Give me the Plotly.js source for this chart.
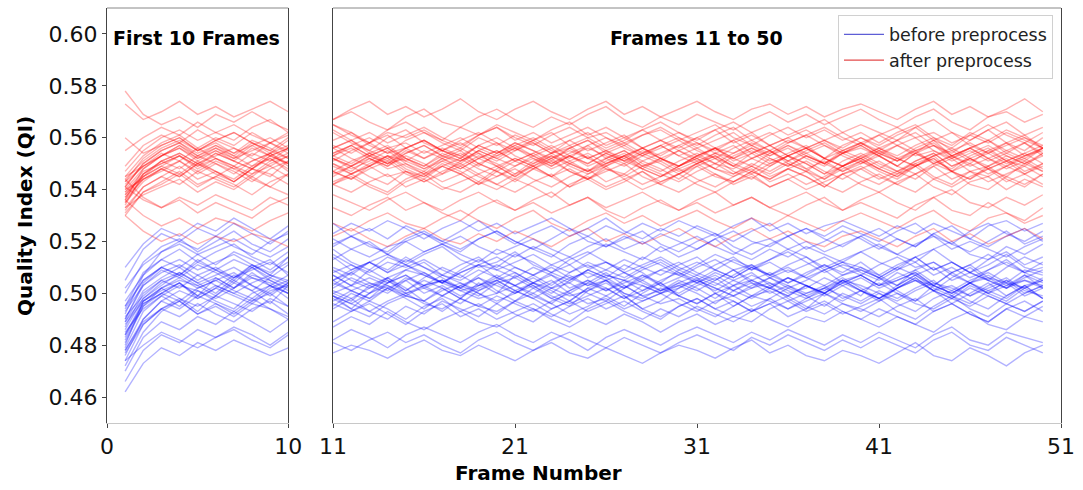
<!DOCTYPE html>
<html><head><meta charset="utf-8">
<script src="https://cdn.plot.ly/plotly-3.0.1.min.js"></script>
<style>html,body{margin:0;padding:0;background:#fff}#chart{width:1083px;height:490px}</style>
</head><body><div id="chart"></div>
<script>
// Frame numbers (x) and Quality Index values in thousandths (y); tick labels map thousandths -> QI
const frames=[1,2,3,4,5,6,7,8,9,10,11,12,13,14,15,16,17,18,19,20,21,22,23,24,25,26,27,28,29,30,31,32,33,34,35,36,37,38,39,40,41,42,43,44,45,46,47,48,49,50];

// before preprocess
const before01=[488,497,501,504,499,506,502,508,503,500,505,501,498,504,507,502,499,503,506,501,497,502,505,500,504,508,503,499,501,505,502,498,503,507,504,500,502,506,503,499,506,501,497,503,508,504,500,503,507,502];
const before02=[481,495,502,498,493,499,505,501,496,503,499,494,500,506,502,497,493,498,504,500,507,503,498,495,501,505,499,494,497,502,506,500,495,499,503,498,494,500,505,501,497,502,506,501,496,500,504,499,503,498];
const before03=[493,503,509,506,511,508,504,510,513,507,503,508,512,509,514,510,506,502,507,511,508,504,500,505,509,506,511,508,503,506,510,513,509,505,508,504,507,511,508,512,507,503,509,512,507,504,509,513,508,505];
const before04=[476,490,497,494,499,496,492,497,500,495,498,494,491,496,499,497,502,498,495,493,497,500,496,492,495,499,503,499,496,498,494,491,495,499,497,494,498,502,499,496,500,496,493,498,501,497,494,499,503,498];
const before05=[490,504,510,507,513,509,505,511,507,514,510,507,512,515,511,508,504,509,513,510,515,512,508,511,506,509,513,510,507,511,514,509,506,510,513,516,512,508,511,509,506,510,514,509,512,508,505,510,514,511];
const before06=[484,496,500,504,498,502,507,503,499,504,500,497,503,506,501,505,502,498,503,507,503,499,496,501,505,502,498,503,500,504,501,505,509,504,500,503,499,502,506,502,498,503,507,502,499,504,500,505,502,498];
const before07=[472,485,493,497,492,495,491,496,494,490,494,498,493,490,495,492,497,494,491,496,492,489,494,497,493,496,499,494,491,495,498,494,491,489,494,497,493,496,492,495,498,493,490,495,499,494,491,496,493,497];
const before08=[497,507,513,510,515,511,516,513,509,514,517,512,509,514,511,515,518,513,510,512,516,511,508,513,516,512,509,514,511,507,511,515,512,509,513,517,514,510,513,516,512,509,514,517,512,508,513,516,511,514];
const before09=[486,498,503,508,504,500,506,510,505,502,507,503,509,505,501,506,510,507,503,505,501,504,508,505,509,506,502,507,504,509,506,503,507,511,506,502,505,509,504,507,503,508,505,501,506,510,505,502,507,504];
const before10=[479,493,499,495,501,497,494,500,503,498,495,500,497,502,498,494,499,503,500,496,501,498,494,497,502,499,495,500,504,499,496,500,497,493,498,502,499,495,500,497,501,498,502,505,499,496,501,504,499,502];
const before11=[500,512,518,521,516,520,524,519,516,521,518,522,519,515,520,523,519,516,521,524,520,517,514,519,522,518,521,524,519,516,520,523,518,515,519,522,517,520,524,521,517,521,518,523,519,516,520,524,519,522];
const before12=[505,517,523,520,525,522,527,523,519,524,527,522,525,521,526,523,520,524,528,523,519,523,526,522,525,529,524,521,525,522,526,523,520,524,527,522,525,522,526,523,520,524,527,522,519,524,527,523,520,524];
const before13=[495,508,513,517,512,516,519,514,511,516,513,517,520,515,512,516,519,515,512,517,514,518,515,511,515,519,516,513,518,514,517,521,516,513,517,514,518,515,512,516,519,515,512,517,520,515,513,518,515,519];
const before14=[510,519,525,522,527,524,529,525,521,526,523,527,524,528,525,521,525,528,524,527,523,526,529,525,522,526,523,527,524,528,525,522,526,529,524,527,523,526,528,525,522,526,523,527,524,521,526,528,524,527];
const before15=[470,483,489,486,491,488,493,489,485,490,487,491,488,493,489,486,490,493,489,487,491,494,490,487,491,488,492,489,485,489,492,488,491,494,490,487,491,489,493,490,487,491,488,485,490,493,488,486,491,489];
const before16=[466,478,484,481,486,483,487,484,480,485,482,486,483,479,484,487,484,481,485,488,484,481,485,482,478,483,486,483,480,484,487,484,481,485,482,486,483,480,484,481,485,482,479,484,487,482,480,485,483,481];
const before17=[462,473,479,476,481,478,482,479,476,479,477,480,478,475,479,482,478,476,480,477,474,478,481,477,475,479,476,473,477,480,478,475,479,482,477,480,476,474,478,476,473,477,481,476,474,479,476,472,477,480];
const before18=[474,480,485,482,479,483,486,482,479,484,481,478,482,485,481,484,480,477,482,485,481,478,482,485,482,479,483,480,477,481,484,481,478,483,480,484,481,478,482,479,483,480,477,482,485,480,478,483,480,477];
const before19=[478,489,494,491,496,492,489,494,497,492,489,493,496,492,488,493,496,491,494,490,493,496,492,489,494,497,493,490,494,491,495,492,489,493,496,491,494,497,493,490,494,491,488,493,496,492,489,494,491,495];
const before20=[489,501,506,510,505,509,506,511,507,504,508,511,507,504,509,512,507,505,509,506,510,507,503,508,511,507,505,509,512,508,505,509,506,510,507,504,508,511,507,509,506,510,507,503,508,511,506,504,509,507];
const before21=[483,496,500,504,499,503,500,497,502,505,501,498,502,505,500,503,499,496,501,504,500,504,501,497,502,505,500,498,502,499,503,506,501,498,502,499,503,500,497,501,498,502,506,501,498,503,500,497,502,505];
const before22=[494,505,510,507,512,509,513,510,506,511,514,509,512,508,513,510,507,511,514,509,512,515,511,508,512,509,506,510,513,509,512,509,513,510,507,511,514,509,512,510,507,511,514,509,512,508,511,515,510,508];
const before23=[474,488,494,497,492,496,493,498,494,491,496,493,497,494,490,495,498,493,496,492,497,494,491,495,498,494,497,493,490,495,498,494,497,493,496,499,495,492,496,494,491,495,498,493,496,492,489,494,497,493];
const before24=[492,507,516,520,517,522,518,515,520,523,519,522,518,516,521,524,520,517,521,524,520,517,521,525,520,518,522,519,523,520,517,521,524,520,518,522,525,521,518,522,525,521,518,523,526,521,518,522,525,520];
const before25=[485,494,499,503,501,498,502,506,504,500,497,501,504,502,499,503,505,501,498,500,503,506,502,499,501,504,500,497,500,503,505,502,499,502,504,501,498,501,505,503,500,497,501,504,502,499,503,506,501,499];
const before26=[491,499,505,502,507,503,500,504,507,505,502,506,503,500,505,508,504,501,503,506,503,500,504,507,503,505,508,504,501,504,507,504,501,505,502,506,503,500,504,507,503,505,508,503,500,504,506,502,505,503];
const before27=[480,497,502,505,503,499,504,501,506,503,500,503,506,503,500,502,505,502,499,504,506,502,498,501,504,501,505,503,500,502,505,502,499,503,506,503,500,502,505,501,498,502,505,503,500,504,501,498,503,505];
const before28=[487,500,505,508,504,507,510,506,503,507,509,505,502,506,509,507,504,508,511,506,503,507,510,506,508,505,502,506,509,507,504,508,505,502,506,509,506,503,507,510,506,503,507,510,505,508,505,502,506,509];
const before29=[478,490,497,501,498,502,499,496,501,503,499,496,500,503,499,497,501,504,500,497,500,503,499,496,499,502,498,501,504,499,496,500,503,499,501,497,500,503,498,501,504,500,497,501,498,502,499,496,500,503];
const before30=[482,495,500,497,502,505,501,498,503,500,504,501,498,502,505,500,503,499,502,505,501,498,502,504,500,497,502,505,501,503,500,496,501,504,502,499,503,500,504,501,498,502,505,501,503,499,502,505,500,503];
const before31=[489,498,504,507,503,506,502,507,505,501,505,508,504,501,506,503,507,504,501,505,508,504,502,506,503,507,505,501,505,508,504,501,505,508,503,506,503,500,505,507,503,506,509,504,501,505,508,504,502,506];
const before32=[477,488,494,498,495,499,496,493,498,495,499,496,493,497,500,496,494,498,495,499,496,493,497,500,496,498,494,497,500,496,493,497,499,495,498,494,497,500,496,493,497,500,496,494,498,495,499,496,493,497];
const before33=[490,503,508,511,507,510,506,509,512,508,505,509,512,508,511,507,504,508,511,509,506,510,507,504,509,512,508,505,509,512,508,505,509,511,507,510,506,509,512,508,505,509,512,507,510,506,509,512,508,510];
const before34=[484,497,502,506,502,505,508,503,500,504,507,503,500,504,507,503,505,502,506,503,500,504,507,502,505,501,504,507,503,500,504,507,503,505,502,506,503,499,503,506,502,505,508,503,500,504,507,503,505,502];
const before35=[495,505,510,513,509,512,515,511,508,512,515,511,508,512,510,513,509,506,511,514,510,507,511,514,510,512,508,511,514,510,507,511,514,509,512,508,511,514,510,507,511,514,510,512,508,511,515,511,508,512];
const before36=[502,511,516,519,515,518,521,517,514,518,521,517,514,518,520,516,519,522,518,515,518,521,517,514,518,521,517,520,516,519,522,518,515,519,521,517,520,516,519,522,518,515,519,522,517,520,517,514,518,521];

// after preprocess
const after01=[538,546,550,553,549,554,551,548,553,556,552,549,553,556,551,548,552,555,550,553,556,552,549,553,550,554,551,548,552,555,551,548,553,556,552,549,553,550,554,557,553,549,554,551,548,553,556,551,549,554];
const after02=[535,545,549,546,551,547,543,548,552,547,550,546,549,553,548,545,550,547,543,548,552,549,545,550,553,548,546,551,548,544,549,552,547,544,549,553,550,546,549,552,548,545,550,553,547,544,549,552,547,550];
const after03=[541,550,555,558,553,557,554,559,556,552,556,559,554,551,556,559,555,552,557,554,558,555,551,556,559,554,557,553,556,559,555,552,556,559,555,551,555,558,554,557,553,557,560,555,552,556,559,554,551,556];
const after04=[532,541,545,549,544,547,543,548,546,542,546,549,545,542,547,544,549,546,542,547,544,548,545,541,546,549,544,547,543,546,550,546,543,547,544,548,545,541,546,548,544,547,550,545,542,547,549,544,541,546];
const after05=[545,553,558,561,556,560,557,562,558,555,559,562,557,554,559,562,558,555,560,557,561,558,554,559,562,557,560,556,559,562,558,555,559,562,557,560,556,559,562,558,555,559,562,557,554,559,563,558,555,560];
const after06=[534,546,551,548,553,550,546,551,554,549,552,548,551,555,550,547,552,549,553,550,546,551,554,550,547,552,549,553,550,546,550,553,549,552,555,550,547,552,549,553,549,546,551,554,549,552,548,545,550,553];
const after07=[530,539,543,547,542,545,549,544,541,546,543,546,542,539,544,547,543,546,542,545,548,544,541,545,548,543,546,542,545,548,544,541,545,548,543,546,542,545,549,545,542,546,549,544,541,545,548,543,546,542];
const after08=[549,557,561,558,563,559,562,558,555,560,563,559,562,558,561,564,560,557,561,564,559,562,558,561,564,560,557,561,563,559,562,565,560,557,561,564,560,563,559,562,558,562,565,560,557,562,559,563,560,557];
const after09=[543,549,553,556,551,555,552,557,553,550,554,557,553,550,555,552,556,553,549,554,557,553,550,554,557,552,555,551,554,557,553,550,554,557,553,556,552,549,554,556,553,549,554,557,552,555,551,554,558,553];
const after10=[537,544,547,551,546,550,547,543,548,551,547,544,549,552,547,545,549,546,550,547,543,548,551,547,544,549,552,548,545,549,552,548,545,549,546,550,547,544,548,551,547,544,549,552,547,544,548,551,546,549];
const after11=[578,569,565,568,564,569,566,570,566,563,567,570,566,563,568,571,566,564,568,571,567,564,568,565,569,572,567,564,568,565,569,566,563,567,570,566,569,565,568,571,567,564,568,571,566,563,568,570,566,569];
const after12=[573,567,570,574,569,572,568,571,574,570,567,571,574,569,572,568,571,575,570,567,571,574,570,567,571,574,569,572,568,571,574,570,567,571,573,569,572,568,571,573,570,567,571,574,569,572,568,571,575,570];
const after13=[533,538,541,544,539,543,540,545,541,538,542,545,541,538,543,546,541,539,543,540,544,541,537,542,545,541,544,540,543,546,542,539,543,546,541,544,540,543,546,542,539,543,546,541,538,543,545,540,544,541];
const after14=[541,536,533,537,534,538,535,532,537,534,538,535,532,536,539,535,532,536,539,535,532,536,539,534,537,533,536,539,535,532,536,539,534,537,533,536,539,535,532,536,539,535,532,537,540,535,533,537,534,538];
const after15=[536,530,526,529,525,529,527,524,528,531,527,524,528,531,527,525,529,532,528,525,529,532,527,524,528,531,527,530,526,529,532,528,525,529,526,530,527,524,528,531,528,525,529,532,527,524,529,531,527,530];
const after16=[530,524,520,523,519,522,520,523,521,518,522,525,521,518,522,525,521,519,523,520,524,521,518,522,525,520,523,519,522,525,521,518,522,525,521,524,520,518,522,524,521,518,522,525,520,523,519,522,525,521];
const after17=[560,554,557,560,555,559,556,553,558,561,557,554,558,561,556,559,555,552,557,560,556,559,555,552,557,560,556,553,557,560,556,559,562,557,554,558,561,557,554,558,561,557,554,559,562,557,554,558,561,556];
const after18=[539,547,550,553,548,552,549,546,551,554,550,547,552,549,553,550,546,551,554,549,552,549,553,550,547,551,554,549,552,548,551,554,550,547,552,549,553,550,547,551,548,552,555,550,547,552,549,553,550,547];
const after19=[555,560,564,561,566,562,559,564,567,562,565,562,558,563,566,562,559,564,561,565,562,559,563,566,561,564,560,563,566,562,559,563,566,562,565,561,564,567,562,565,562,559,564,567,562,559,563,566,561,564];
const after20=[540,544,548,545,550,546,543,548,545,551,547,544,548,551,546,543,547,550,546,549,545,549,552,547,544,548,545,549,546,543,547,550,546,549,545,548,551,547,544,548,551,547,544,549,552,547,545,549,546,550];
const after21=[536,548,553,557,552,556,553,549,554,557,553,556,552,549,554,557,553,550,555,558,553,550,554,557,552,555,551,554,557,553,556,552,549,554,557,553,556,552,555,558,554,551,556,559,553,550,555,558,553,556];
const after22=[543,552,557,560,555,559,562,558,554,559,562,558,555,560,563,558,555,559,562,558,555,559,562,557,560,556,559,563,559,556,560,563,558,561,557,560,563,559,556,560,557,561,564,559,556,561,558,562,559,556];
const after23=[544,537,533,536,531,535,532,529,534,537,533,530,534,537,532,535,531,528,533,536,532,535,531,534,537,532,529,533,536,532,535,531,534,537,533,530,534,537,532,535,532,529,534,537,532,530,535,531,528,533];
const after24=[531,539,542,546,541,545,542,538,543,546,542,539,543,546,541,544,540,543,546,542,539,543,546,541,544,540,543,547,542,539,543,546,542,545,541,544,547,542,539,543,546,542,539,544,547,542,540,545,542,546];
const after25=[537,546,551,554,550,553,556,552,549,553,556,552,549,553,551,555,552,548,552,555,551,548,552,555,552,549,553,556,552,549,553,556,551,554,550,553,556,552,549,552,555,551,554,550,553,556,552,549,553,555];
const after26=[540,548,553,556,552,555,551,556,553,550,554,557,553,550,554,557,553,551,555,552,556,553,549,553,556,553,550,554,557,553,550,554,557,552,555,551,554,557,553,550,554,557,553,555,551,554,557,553,550,554];
const after27=[535,543,548,551,547,551,548,545,550,553,549,546,550,553,549,546,551,548,552,549,545,550,553,549,546,550,553,549,551,547,550,553,549,546,550,553,548,551,547,550,553,549,546,550,553,549,552,548,551,547];
const after28=[539,545,551,554,550,554,551,548,553,556,552,549,553,556,552,549,554,551,555,552,549,553,556,551,554,550,553,556,552,549,553,556,552,555,551,554,557,552,549,553,556,552,549,553,555,551,554,550,553,556];
const after29=[541,550,555,558,554,557,553,558,555,552,556,559,555,552,556,559,555,553,557,554,558,555,552,556,559,555,552,556,559,555,552,556,559,554,557,553,556,559,555,552,556,559,555,557,553,556,559,555,552,556];
const after30=[538,545,549,553,549,552,548,551,554,550,547,551,554,550,552,548,551,554,550,547,551,554,550,553,549,552,555,550,547,551,554,550,548,552,549,553,550,546,551,554,550,547,551,554,549,552,548,551,554,550];
const after31=[536,544,548,545,550,547,544,549,552,548,545,549,552,548,550,546,549,552,548,545,549,552,548,551,547,550,553,548,545,549,552,548,546,550,547,551,548,544,549,552,548,545,549,552,547,550,546,549,552,548];
const after32=[542,549,553,557,553,556,552,555,558,554,551,555,558,554,556,552,555,558,554,551,555,558,554,556,552,555,558,554,551,555,558,554,552,556,553,557,554,550,555,558,554,551,555,558,553,556,552,555,558,554];
const after33=[544,551,556,559,555,558,554,557,560,556,553,557,560,556,558,554,557,560,556,553,557,560,556,559,555,558,561,556,553,557,560,556,554,558,555,559,556,552,557,560,556,553,557,560,555,558,554,557,560,556];
const after34=[533,541,545,542,547,544,541,546,549,545,542,546,549,545,547,543,546,549,545,542,546,549,545,548,544,547,550,545,542,546,549,545,543,547,544,548,545,541,546,549,545,542,546,549,544,547,543,546,549,545];
const after35=[545,549,554,551,556,552,549,554,551,556,553,550,554,557,552,549,553,556,552,555,551,554,557,553,550,554,551,555,552,549,553,556,552,549,554,557,553,550,554,551,555,552,549,553,556,552,555,551,554,557];
const after36=[547,555,560,563,559,562,565,561,558,562,565,561,558,562,560,563,559,556,561,564,560,557,561,564,560,562,558,561,564,560,557,561,564,559,562,558,561,564,560,557,561,564,560,562,558,561,565,561,558,562];

const beforeSeries=[before01,before02,before03,before04,before05,before06,before07,before08,before09,before10,before11,before12,before13,before14,before15,before16,before17,before18,before19,before20,before21,before22,before23,before24,before25,before26,before27,before28,before29,before30,before31,before32,before33,before34,before35,before36];
const afterSeries=[after01,after02,after03,after04,after05,after06,after07,after08,after09,after10,after11,after12,after13,after14,after15,after16,after17,after18,after19,after20,after21,after22,after23,after24,after25,after26,after27,after28,after29,after30,after31,after32,after33,after34,after35,after36];

const yTickVals=[460,480,500,520,540,560,580,600];
const yTickText=['0.46','0.48','0.50','0.52','0.54','0.56','0.58','0.60'];
const xTicksLeft=[0,10];
const xTicksRight=[11,21,31,41,51];
const seriesNames=['before preprocess','after preprocess'];
const splitAt=10;

const FONT='DejaVu Sans, sans-serif';
const blueLine='rgba(0,0,255,0.3)';
const redLine='rgba(255,0,0,0.3)';
const LW=1.4;

const traces=[];
function addSeries(list,color){
  list.forEach(s=>{
    traces.push({x:frames.slice(0,splitAt),y:s.slice(0,splitAt),xaxis:'x',yaxis:'y',mode:'lines',line:{color:color,width:LW},showlegend:false,hoverinfo:'skip'});
    traces.push({x:frames.slice(splitAt),y:s.slice(splitAt),xaxis:'x2',yaxis:'y2',mode:'lines',line:{color:color,width:LW},showlegend:false,hoverinfo:'skip'});
  });
}
addSeries(beforeSeries,blueLine);
addSeries(afterSeries,redLine);
traces.push({x:[null],y:[null],xaxis:'x2',yaxis:'y2',mode:'lines',name:seriesNames[0],line:{color:'rgba(40,40,200,0.75)',width:1.2}});
traces.push({x:[null],y:[null],xaxis:'x2',yaxis:'y2',mode:'lines',name:seriesNames[1],line:{color:'rgba(220,30,30,0.8)',width:1.2}});

const yBase={range:[450,610],tickvals:yTickVals,ticktext:yTickText,showgrid:false,zeroline:false,showline:true,mirror:true,linecolor:'#444',linewidth:1};
const xBase={showgrid:false,zeroline:false,showline:true,linecolor:'#c8c8c8',linewidth:1,ticks:'outside',ticklen:4,tickcolor:'#444',tickfont:{family:FONT,size:22,color:'#111'}};

const layout={
  width:1083,height:490,
  margin:{l:107,r:22,t:8,b:67},
  paper_bgcolor:'#fff',plot_bgcolor:'#fff',
  showlegend:true,
  xaxis:Object.assign({},xBase,{domain:[0,0.19],range:[0,10],tickvals:xTicksLeft,anchor:'y'}),
  xaxis2:Object.assign({},xBase,{domain:[0.2369,1],range:[11,51],tickvals:xTicksRight,anchor:'y2'}),
  yaxis:Object.assign({},yBase,{anchor:'x',ticks:'outside',ticklen:4,tickcolor:'#444',tickfont:{family:FONT,size:22,color:'#111'}}),
  yaxis2:Object.assign({},yBase,{anchor:'x2',showticklabels:false,ticks:''}),
  legend:{x:0.9916,y:0.982,xanchor:'right',yanchor:'top',itemwidth:40,bgcolor:'rgba(255,255,255,0.85)',bordercolor:'#d0d0d0',borderwidth:1,font:{family:FONT,size:17.5,color:'#222'}},
  shapes:[
    {type:'line',xref:'paper',yref:'paper',x0:0,x1:0.19,y0:1,y1:1,line:{color:'#888',width:1}},
    {type:'line',xref:'paper',yref:'paper',x0:0.2369,x1:1,y0:1,y1:1,line:{color:'#888',width:1}}
  ],
  annotations:[
    {text:'First 10 Frames',xref:'paper',yref:'paper',x:0.0943,y:0.9277,xanchor:'center',yanchor:'middle',showarrow:false,font:{family:FONT,size:19,color:'#000',weight:'bold'}},
    {text:'Frames 11 to 50',xref:'paper',yref:'paper',x:0.6184,y:0.9277,xanchor:'center',yanchor:'middle',showarrow:false,font:{family:FONT,size:19,color:'#000',weight:'bold'}},
    {text:'Frame Number',xref:'paper',yref:'paper',x:0.4518,y:0,yshift:-50,xanchor:'center',yanchor:'middle',showarrow:false,font:{family:FONT,size:20,color:'#000',weight:'bold'}},
    {text:'Quality Index (QI)',xref:'paper',yref:'paper',x:0,xshift:-82,y:0.499,xanchor:'center',yanchor:'middle',textangle:-90,showarrow:false,font:{family:FONT,size:20,color:'#000',weight:'bold'}}
  ]
};
Plotly.newPlot('chart',traces,layout,{displayModeBar:false,staticPlot:true});
</script></body></html>
